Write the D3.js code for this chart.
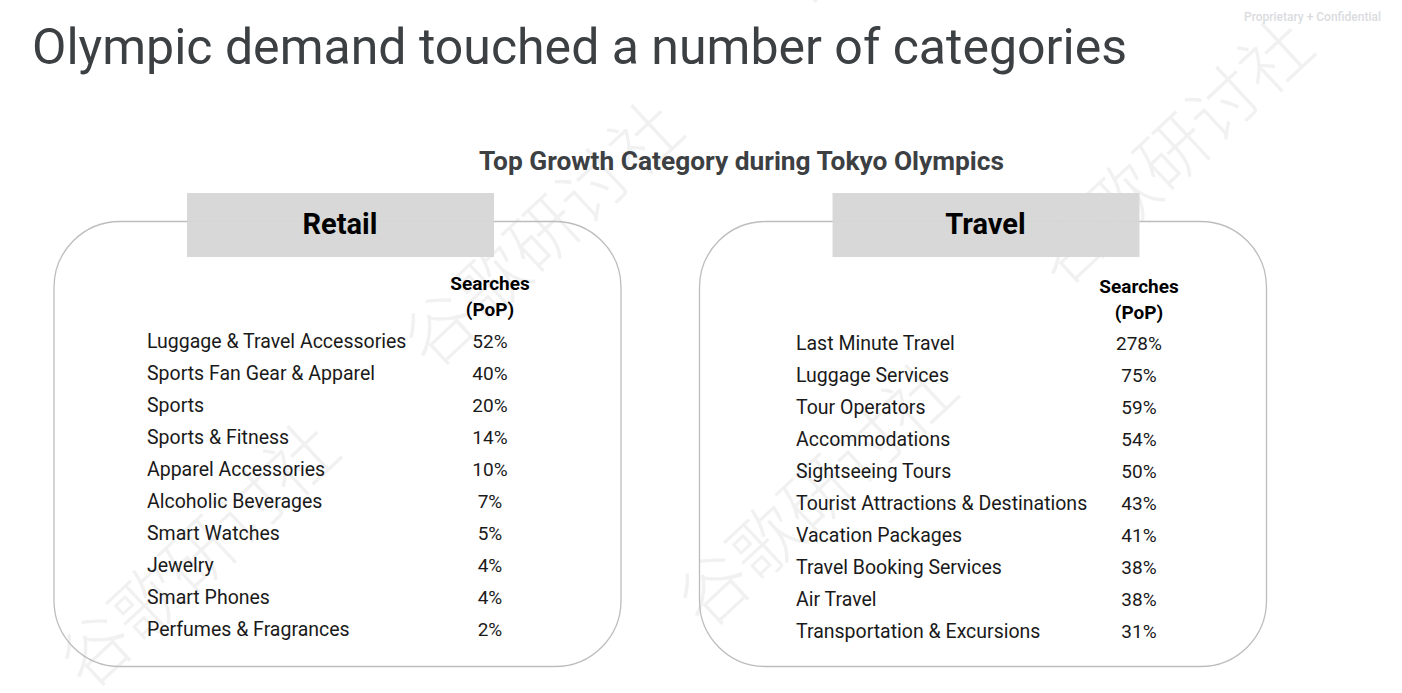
<!DOCTYPE html>
<html>
<head>
<meta charset="utf-8">
<script src="https://cdn.jsdelivr.net/npm/d3@7"></script>
<style>
  html, body { margin: 0; padding: 0; background: #fff; overflow: hidden; }
  text { font-family: Roboto, "Open Sans", sans-serif; }
</style>
</head>
<body>
<svg id="slide" width="1402" height="693"></svg>
<script>
// Chart text
var pageTitle = "Olympic demand touched a number of categories";
var chartTitle = "Top Growth Category during Tokyo Olympics";
var confidential = "Proprietary + Confidential";
var watermark = "谷歌研讨社";

// Retail table
var retailCategories = ["Luggage & Travel Accessories", "Sports Fan Gear & Apparel", "Sports", "Sports & Fitness",
  "Apparel Accessories", "Alcoholic Beverages", "Smart Watches", "Jewelry", "Smart Phones", "Perfumes & Fragrances"];
var retailValues = [52, 40, 20, 14, 10, 7, 5, 4, 4, 2];

// Travel table
var travelCategories = ["Last Minute Travel", "Luggage Services", "Tour Operators", "Accommodations", "Sightseeing Tours",
  "Tourist Attractions & Destinations", "Vacation Packages", "Travel Booking Services", "Air Travel", "Transportation & Excursions"];
var travelValues = [278, 75, 59, 54, 50, 43, 41, 38, 38, 31];

var svg = d3.select("#slide");

// Faint diagonal watermarks go in first so everything else sits on top
var marks = [[88, 693], [432, 372], [706, 632], [1062, 290], [800, 10]];
marks.forEach(function (m) {
  svg.append("text")
    .attr("transform", "translate(" + m[0] + "," + m[1] + ") rotate(-43)")
    .attr("font-size", 70)
    .style("font-family", "'Noto Sans CJK SC'")
    .style("font-weight", 200)
    .attr("fill", "#f1f1f1")
    .text(watermark);
});

function fitText(sel, width) {
  sel.attr("textLength", width).attr("lengthAdjust", "spacingAndGlyphs");
}

svg.append("text")
  .attr("x", 32).attr("y", 64)
  .attr("font-size", 50)
  .attr("fill", "#3c4043")
  .text(pageTitle)
  .call(fitText, 1095);

svg.append("text")
  .attr("x", 1244).attr("y", 21)
  .attr("font-size", 12)
  .attr("fill", "#dadce0")
  .style("font-weight", 500)
  .text(confidential)
  .call(fitText, 137);

svg.append("text")
  .attr("x", 479).attr("y", 170)
  .attr("font-size", 25)
  .attr("fill", "#3c4043")
  .style("font-weight", 700)
  .text(chartTitle)
  .call(fitText, 525);

function drawPanel(opts) {
  var g = svg.append("g");

  g.append("rect")
    .attr("x", opts.left).attr("y", 221.5)
    .attr("width", 567).attr("height", 445)
    .attr("rx", 66).attr("ry", 66)
    .attr("fill", "none")
    .attr("stroke", "#bdbdbd")
    .attr("stroke-width", 1.3);

  g.append("rect")
    .attr("x", opts.left + 133).attr("y", 193)
    .attr("width", 307).attr("height", 64)
    .attr("fill", "#d6d6d6")
    .attr("fill-opacity", 0.95);

  g.append("text")
    .attr("x", opts.left + 286).attr("y", 234)
    .attr("text-anchor", "middle")
    .attr("font-size", 29)
    .attr("fill", "#000")
    .style("font-weight", 700)
    .text(opts.name);

  // Column head
  ["Searches", "(PoP)"].forEach(function (line, i) {
    g.append("text")
      .attr("x", opts.valueX).attr("y", opts.headY + i * 26)
      .attr("text-anchor", "middle")
      .attr("font-size", 19)
      .attr("fill", "#000")
      .style("font-weight", 700)
      .text(line);
  });

  var y = d3.scalePoint()
    .domain(opts.categories)
    .range(opts.rowRange);

  var rows = g.selectAll(".row")
    .data(opts.categories)
    .enter().append("g")
    .attr("class", "row")
    .attr("transform", function (d) { return "translate(0," + y(d) + ")"; });

  rows.append("text")
    .attr("x", opts.labelX).attr("dy", "0.35em")
    .attr("font-size", 19.5)
    .attr("fill", "#1a1a1a")
    .text(function (d) { return d; });

  rows.append("text")
    .attr("x", opts.valueX).attr("dy", "0.35em")
    .attr("text-anchor", "middle")
    .attr("font-size", 19)
    .attr("fill", "#1a1a1a")
    .text(function (d, i) { return opts.values[i] + "%"; });
}

drawPanel({
  name: "Retail", left: 54, labelX: 147, valueX: 490, headY: 290,
  categories: retailCategories, values: retailValues, rowRange: [341.5, 629]
});

drawPanel({
  name: "Travel", left: 699.5, labelX: 796, valueX: 1139, headY: 293,
  categories: travelCategories, values: travelValues, rowRange: [343.5, 631.5]
});
</script>
</body>
</html>
